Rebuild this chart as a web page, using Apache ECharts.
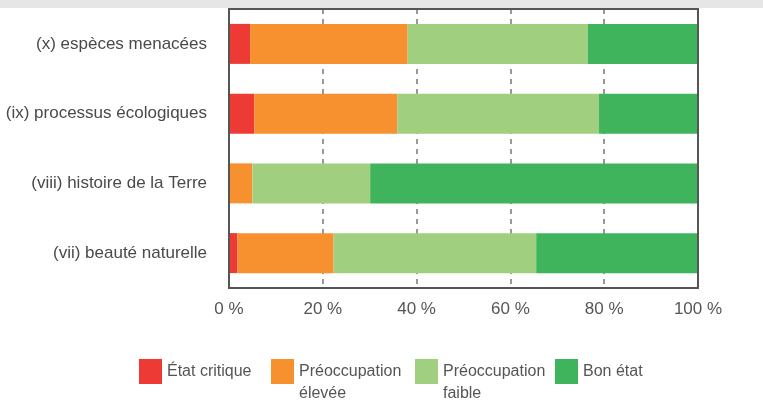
<!DOCTYPE html>
<html lang="fr">
<head>
<meta charset="UTF-8">
<title>Etat de conservation</title>
<style>
  html, body { margin: 0; padding: 0; background: #fff; }
  #chart { width: 763px; height: 406px; }
</style>
</head>
<body>
<div id="chart"></div>
<script src="https://cdn.jsdelivr.net/npm/echarts@6/dist/echarts.min.js"></script>
<script>
// categories, top to bottom
const categories = ['(x) espèces menacées', '(ix) processus écologiques', '(viii) histoire de la Terre', '(vii) beauté naturelle'];
// shares in %, same order as categories
const etatCritique = [4.5, 5.4, 0, 1.8];
const preoccupationElevee = [33.6, 30.5, 5.0, 20.5];
const preoccupationFaible = [38.4, 43.0, 25.1, 43.2];
const bonEtat = [23.5, 21.1, 69.9, 34.5];
const xTicks = [0, 20, 40, 60, 80, 100];

const names = ['État critique', 'Préoccupation élevée', 'Préoccupation faible', 'Bon état'];
const labels = ['État critique', 'Préoccupation\nélevée', 'Préoccupation\nfaible', 'Bon état'];
const colors = ['#ee3a35', '#f7912f', '#a0cf80', '#3fb45c'];
const values = [etatCritique, preoccupationElevee, preoccupationFaible, bonEtat];
const legendLeft = [139, 271, 415, 555];

const chart = echarts.init(document.getElementById('chart'));

const font = 'Liberation Sans, Arial, sans-serif';

// one legend per item so each can sit where it is in the picture;
// two-line labels get an empty first line so the first real line lines up with the square
const legends = names.map(function (n, i) {
  const twoLines = labels[i].indexOf('\n') >= 0;
  return {
    left: legendLeft[i],
    top: twoLines ? 338.5 : 359,
    padding: 0,
    itemWidth: 23,
    itemHeight: 25,
    itemGap: 0,
    selectedMode: false,
    icon: 'rect',
    formatter: function () { return twoLines ? '\n' + labels[i] : labels[i]; },
    textStyle: {
      fontFamily: font,
      fontSize: 16,
      color: '#555',
      lineHeight: 22
    },
    data: [n]
  };
});

const option = {
  animation: false,
  backgroundColor: '#fff',
  graphic: [{
    type: 'rect',
    left: 0, top: 0,
    shape: { width: 763, height: 8 },
    style: { fill: '#e6e6e6' },
    silent: true
  }],
  legend: legends,
  grid: {
    left: 229, right: 65, top: 9, bottom: 118,
    show: true,
    borderColor: '#555',
    borderWidth: 2,
    backgroundColor: 'transparent',
    z: 3
  },
  xAxis: {
    type: 'value',
    min: xTicks[0],
    max: xTicks[xTicks.length - 1],
    interval: 20,
    axisLine: { show: false },
    axisTick: { show: false },
    axisLabel: {
      fontFamily: font,
      fontSize: 17,
      color: '#555',
      margin: 13,
      formatter: '{value} %'
    },
    splitLine: { lineStyle: { color: '#777', width: 1.5, type: [5, 5] } }
  },
  yAxis: {
    type: 'category',
    inverse: true,
    data: categories,
    axisLine: { show: false },
    axisTick: { show: false },
    axisLabel: {
      fontFamily: font,
      fontSize: 17,
      color: '#4a4a4a',
      margin: 22
    }
  },
  series: names.map(function (n, i) {
    return {
      name: n,
      type: 'bar',
      stack: 'total',
      barWidth: 40,
      itemStyle: { color: colors[i] },
      data: values[i]
    };
  })
};

chart.setOption(option);
</script>
</body>
</html>
